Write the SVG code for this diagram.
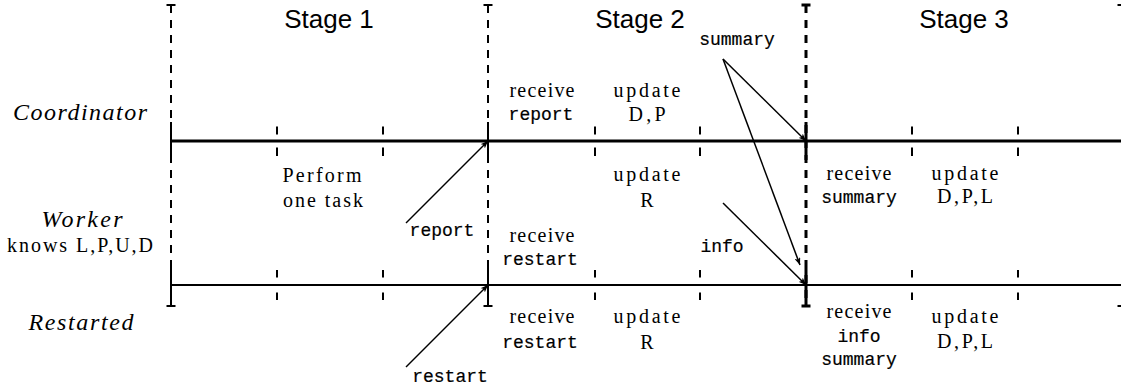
<svg xmlns="http://www.w3.org/2000/svg" width="1121" height="387" viewBox="0 0 1121 387">
  <style>
    .bg { fill: #ffffff; }
    .stage { font-family: "Liberation Sans", Arial, sans-serif; font-size: 26px; fill: #000; text-anchor: middle; }
    .role { font-family: "Liberation Serif", "Times New Roman", serif; font-style: italic; font-size: 24px; fill: #000; text-anchor: middle; }
    .rm { font-family: "Liberation Serif", "Times New Roman", serif; font-size: 20px; fill: #000; text-anchor: middle; }
    .tt { font-family: "Liberation Mono", "Courier New", monospace; font-size: 18px; fill: #000; text-anchor: middle; stroke: #000; stroke-width: 0.2; }
    .axis { stroke: #000; fill: none; }
    .bound { stroke: #000; stroke-width: 2; fill: none; }
    .bound-heavy .bound { stroke-width: 3; }
    .bound-dash { stroke-dasharray: 8 7; }
    .tick { stroke: #000; stroke-width: 2; }
    .msg { stroke: #000; stroke-width: 1.5; fill: none; marker-end: url(#head); }
  </style>
  <defs>
    <marker id="head" viewBox="0 0 10 8" refX="10" refY="4" markerWidth="8" markerHeight="6" markerUnits="userSpaceOnUse" orient="auto">
      <path d="M0,0 L10,4 L0,8 L2.5,4 Z" fill="#000"/>
    </marker>
    <!-- sub-step ticks above and below each time line -->
    <g id="tickmark">
      <line x1="0" y1="126.5" x2="0" y2="134.5" class="tick"/>
      <line x1="0" y1="147.5" x2="0" y2="156" class="tick"/>
      <line x1="0" y1="270" x2="0" y2="277.5" class="tick"/>
      <line x1="0" y1="292.5" x2="0" y2="300" class="tick"/>
    </g>
  </defs>

  <rect class="bg" x="0" y="0" width="1121" height="387"/>

  <!-- time lines -->
  <g id="timelines">
    <line x1="171" y1="141" x2="1121" y2="141" class="axis" stroke-width="3"/>
    <line x1="171" y1="285" x2="1121" y2="285" class="axis" stroke-width="2"/>
  </g>

  <!-- stage boundaries: dashed, solid where they cross the time lines, capped at both ends -->
  <g id="boundaries">
    <g id="boundary-1" transform="translate(171,0)">
      <line x1="0" y1="5" x2="0" y2="306" class="bound bound-dash"/>
      <line x1="0" y1="122" x2="0" y2="160" class="bound"/>
      <line x1="0" y1="268" x2="0" y2="306" class="bound"/>
      <line x1="-4.5" y1="5" x2="4.5" y2="5" class="bound"/>
      <line x1="-4.5" y1="306" x2="4.5" y2="306" class="bound"/>
    </g>
    <g id="boundary-2" transform="translate(488,0)">
      <line x1="0" y1="5" x2="0" y2="306" class="bound bound-dash"/>
      <line x1="0" y1="122" x2="0" y2="160" class="bound"/>
      <line x1="0" y1="268" x2="0" y2="306" class="bound"/>
      <line x1="-4.5" y1="5" x2="4.5" y2="5" class="bound"/>
      <line x1="-4.5" y1="306" x2="4.5" y2="306" class="bound"/>
    </g>
    <g id="boundary-3" class="bound-heavy" transform="translate(806,0)">
      <line x1="0" y1="5" x2="0" y2="306" class="bound bound-dash"/>
      <line x1="0" y1="122" x2="0" y2="160" class="bound"/>
      <line x1="0" y1="268" x2="0" y2="306" class="bound"/>
      <line x1="-4.5" y1="5" x2="4.5" y2="5" class="bound"/>
      <line x1="-4.5" y1="306" x2="4.5" y2="306" class="bound"/>
    </g>
    <g id="boundary-4" transform="translate(1122,0)">
      <line x1="0" y1="5" x2="0" y2="306" class="bound bound-dash"/>
      <line x1="-4.5" y1="5" x2="4.5" y2="5" class="bound"/>
      <line x1="-4.5" y1="306" x2="4.5" y2="306" class="bound"/>
    </g>
    <use href="#tickmark" x="277"/>
    <use href="#tickmark" x="383"/>
    <use href="#tickmark" x="595"/>
    <use href="#tickmark" x="700"/>
    <use href="#tickmark" x="912"/>
    <use href="#tickmark" x="1018"/>
  </g>

  <!-- stage headings -->
  <g id="stage1"><text class="stage" x="329" y="28">Stage 1</text></g>
  <g id="stage2"><text class="stage" x="640" y="28">Stage 2</text></g>
  <g id="stage3"><text class="stage" x="964" y="28">Stage 3</text></g>

  <!-- process roles -->
  <g id="coordinator"><text class="role" x="80" y="120" textLength="134" lengthAdjust="spacing">Coordinator</text></g>
  <g id="worker">
    <text class="role" x="82" y="227" textLength="81" lengthAdjust="spacing">Worker</text>
    <text class="rm" x="80" y="252" textLength="146" lengthAdjust="spacing">knows L,P,U,D</text>
  </g>
  <g id="restarted"><text class="role" x="81" y="330" textLength="105" lengthAdjust="spacing">Restarted</text></g>

  <!-- stage 1 -->
  <g id="perform-task">
    <text class="rm" x="322" y="182" textLength="79" lengthAdjust="spacing">Perform</text>
    <text class="rm" x="323" y="207" textLength="80" lengthAdjust="spacing">one task</text>
  </g>

  <!-- stage 2, coordinator -->
  <g id="coord-receive-report">
    <text class="rm" x="542" y="97" textLength="65" lengthAdjust="spacing">receive</text>
    <text class="tt" x="541" y="120">report</text>
  </g>
  <g id="coord-update-dp">
    <text class="rm" x="647" y="97" textLength="67" lengthAdjust="spacing">update</text>
    <text class="rm" x="647" y="121" textLength="37" lengthAdjust="spacing">D,P</text>
  </g>
  <g id="coord-update-r">
    <text class="rm" x="647" y="181" textLength="67" lengthAdjust="spacing">update</text>
    <text class="rm" x="647" y="207">R</text>
  </g>

  <!-- stage 2, worker -->
  <g id="worker-receive-restart">
    <text class="rm" x="542" y="242" textLength="65" lengthAdjust="spacing">receive</text>
    <text class="tt" x="540" y="265">restart</text>
  </g>

  <!-- stage 2, restarted -->
  <g id="restarted-receive-restart">
    <text class="rm" x="542" y="323" textLength="65" lengthAdjust="spacing">receive</text>
    <text class="tt" x="540" y="348">restart</text>
  </g>
  <g id="restarted-update-r">
    <text class="rm" x="647" y="323" textLength="67" lengthAdjust="spacing">update</text>
    <text class="rm" x="647" y="349">R</text>
  </g>

  <!-- stage 3, worker -->
  <g id="worker-receive-summary">
    <text class="rm" x="859" y="180" textLength="65" lengthAdjust="spacing">receive</text>
    <text class="tt" x="859" y="203">summary</text>
  </g>
  <g id="worker-update-dpl">
    <text class="rm" x="965" y="180" textLength="67" lengthAdjust="spacing">update</text>
    <text class="rm" x="965" y="203" textLength="56" lengthAdjust="spacing">D,P,L</text>
  </g>

  <!-- stage 3, restarted -->
  <g id="restarted-receive-info">
    <text class="rm" x="859" y="318" textLength="65" lengthAdjust="spacing">receive</text>
    <text class="tt" x="859" y="342">info</text>
    <text class="tt" x="859" y="365">summary</text>
  </g>
  <g id="restarted-update-dpl">
    <text class="rm" x="965" y="323" textLength="67" lengthAdjust="spacing">update</text>
    <text class="rm" x="965" y="348" textLength="56" lengthAdjust="spacing">D,P,L</text>
  </g>

  <!-- messages -->
  <g id="messages">
    <line class="msg" x1="406" y1="223" x2="488" y2="141"/>
    <line class="msg" x1="406" y1="367" x2="488" y2="285"/>
    <line class="msg" x1="723" y1="59" x2="806" y2="141"/>
    <line class="msg" x1="723" y1="59" x2="800" y2="265"/>
    <line class="msg" x1="723" y1="203" x2="806" y2="285"/>
  </g>
  <g id="message-labels">
    <text class="tt" x="442" y="236">report</text>
    <text class="tt" x="450" y="382">restart</text>
    <text class="tt" x="737" y="45">summary</text>
    <text class="tt" x="722" y="252">info</text>
  </g>
</svg>
